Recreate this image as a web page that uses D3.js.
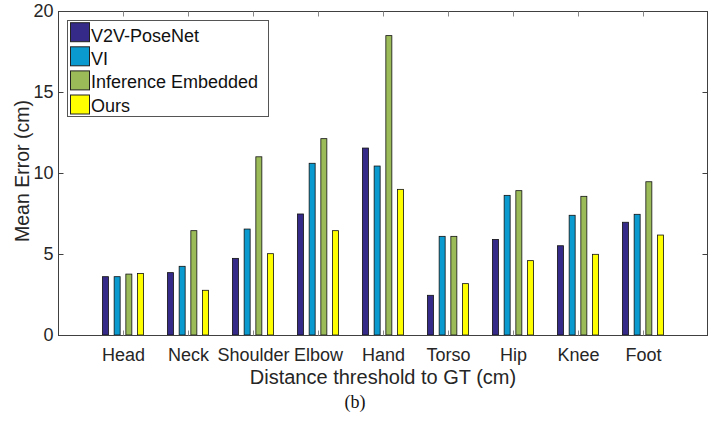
<!DOCTYPE html>
<html><head><meta charset="utf-8">
<script src="https://cdn.jsdelivr.net/npm/d3@7"></script>
<style>body{margin:0;background:#fff}svg{display:block}text{font-family:"Liberation Sans",Arial,sans-serif}</style>
</head><body>
<script>
const categories = ["Head","Neck","Shoulder","Elbow","Hand","Torso","Hip","Knee","Foot"];
const seriesNames = ["V2V-PoseNet","VI","Inference Embedded","Ours"];
const v2v = [3.6, 3.85, 4.73, 7.47, 11.54, 2.45, 5.9, 5.51, 6.96];
const vi = [3.6, 4.24, 6.54, 10.6, 10.43, 6.09, 8.62, 7.39, 7.45];
const inferenceEmbedded = [3.76, 6.44, 11.0, 12.12, 18.48, 6.09, 8.91, 8.56, 9.46];
const ours = [3.8, 2.76, 5.02, 6.44, 8.99, 3.17, 4.59, 4.98, 6.17];
const yTicks = [0, 5, 10, 15, 20];
const colors = ["#352a87", "#0a9ad0", "#9bbb59", "#ffff00"];
const series = [v2v, vi, inferenceEmbedded, ours];

const W = 711, H = 422;
const L = 58.5, R = 707.5, T = 11.5, B = 335.5;
const svg = d3.select("body").append("svg").attr("width", W).attr("height", H);

const x = d3.scaleLinear().domain([0, 10]).range([58, 708]);
const y = d3.scaleLinear().domain([0, 20]).range([335, 11]);
const step = 11.7, bw = 6;
const offs = [-1.5, -0.5, 0.5, 1.5];

// bars
series.forEach((vals, s) => {
  svg.append("g").selectAll("rect").data(vals).join("rect")
    .attr("x", (d, i) => x(i + 1) + offs[s] * step - bw / 2)
    .attr("y", d => y(d))
    .attr("width", bw)
    .attr("height", d => y(0) - y(d))
    .attr("fill", colors[s])
    .attr("stroke", "#111").attr("stroke-width", 0.8);
});

// axes box
const ax = "#404040";
svg.append("rect").attr("x", L).attr("y", T).attr("width", R - L).attr("height", B - T)
  .attr("fill", "none").attr("stroke", ax).attr("stroke-width", 1);

// x axis (bottom, ticks inward)
const xAxis = d3.axisBottom(x).tickValues(d3.range(1, 10)).tickSize(-5).tickPadding(0)
  .tickFormat((d) => categories[d - 1]);
const gx = svg.append("g").attr("transform", `translate(0,${B})`).call(xAxis);
gx.select(".domain").remove();
gx.selectAll("line").attr("stroke", "#888");
gx.selectAll("text").attr("font-size", 18).attr("fill", "#262626")
  .attr("y", 25).attr("dy", null);

const gxt = svg.append("g").attr("transform", `translate(0,${T})`)
  .call(d3.axisTop(x).tickValues(d3.range(1, 10)).tickSize(-5).tickFormat(""));
gxt.select(".domain").remove();
gxt.selectAll("line").attr("stroke", "#888");

// y axis
const gy = svg.append("g").attr("transform", `translate(${L},0)`)
  .call(d3.axisLeft(y).tickValues(yTicks).tickSize(-5).tickPadding(5));
gy.select(".domain").remove();
gy.selectAll("line").attr("stroke", ax);
gy.selectAll("text").attr("font-size", 18).attr("fill", "#262626");

const gyr = svg.append("g").attr("transform", `translate(${R},0)`)
  .call(d3.axisRight(y).tickValues(yTicks).tickSize(-5).tickFormat(""));
gyr.select(".domain").remove();
gyr.selectAll("line").attr("stroke", ax);

// labels
svg.append("text").attr("x", 383).attr("y", 384).attr("text-anchor", "middle")
  .attr("font-size", 20).attr("fill", "#262626").text("Distance threshold to GT (cm)");
svg.append("text").attr("transform", "translate(29,171) rotate(-90)").attr("text-anchor", "middle")
  .attr("font-size", 19.5).attr("fill", "#262626").text("Mean Error (cm)");
svg.append("text").attr("x", 355).attr("y", 408).attr("text-anchor", "middle")
  .attr("font-size", 18).attr("fill", "#111").style("font-family", "'Liberation Serif','Times New Roman',serif").text("(b)");

// legend
const lg = svg.append("g");
lg.append("rect").attr("x", 67.5).attr("y", 20.5).attr("width", 201).attr("height", 96)
  .attr("fill", "#fff").attr("stroke", "#555").attr("stroke-width", 1);
seriesNames.forEach((n, i) => {
  const top = 22.7 + i * 24.1;
  lg.append("rect").attr("x", 70.5).attr("y", top).attr("width", 19).attr("height", 19)
    .attr("fill", colors[i]).attr("stroke", "#222").attr("stroke-width", 1);
  lg.append("text").attr("x", 91).attr("y", 41.5 + i * 23.4).attr("font-size", 18).attr("fill", "#111").text(n);
});
</script>
</body></html>
